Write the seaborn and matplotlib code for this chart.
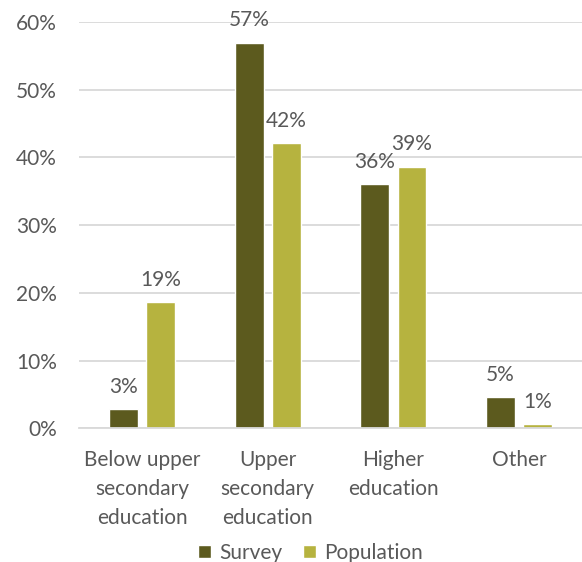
import pandas as pd
import matplotlib
matplotlib.use("Agg")
import matplotlib.pyplot as plt
import seaborn as sns

# data
categories = ["Below upper\nsecondary\neducation", "Upper\nsecondary\neducation",
              "Higher\neducation", "Other"]
survey = [0.028, 0.569, 0.360, 0.046]
population = [0.186, 0.421, 0.386, 0.006]
series_names = ["Survey", "Population"]
y_ticks = [0, 0.1, 0.2, 0.3, 0.4, 0.5, 0.6]

colors = ["#5C5A1E", "#B6B33F"]
text_color = "#595959"
fs = 15

df = pd.DataFrame({
    "category": categories * 2,
    "series": [series_names[0]] * 4 + [series_names[1]] * 4,
    "value": survey + population,
})

sns.set_theme(style="white")
plt.rcParams["font.family"] = ["Lato", "DejaVu Sans"]

fig = plt.figure(figsize=(5.82, 5.62), dpi=100)
ax = fig.add_axes([0.136, 0.238, 0.864, 0.723])

sns.barplot(data=df, x="category", y="value", hue="series", order=categories,
            hue_order=series_names, palette=colors, width=0.59, gap=0.22,
            saturation=1, ax=ax, legend=True)

# value labels
for container in ax.containers:
    labels = [f"{v * 100:.0f}%" for v in container.datavalues]
    ax.bar_label(container, labels=labels, padding=9, fontsize=fs,
                 color=text_color)

ax.set_ylim(0, 0.6)
ax.set_yticks(y_ticks)
ax.set_yticklabels([f"{int(t * 100)}%" for t in y_ticks])
ax.yaxis.grid(True, color="#D9D9D9", linewidth=1.3)
ax.set_axisbelow(True)
for side in ["top", "right", "left"]:
    ax.spines[side].set_visible(False)
ax.spines["bottom"].set_color("#D9D9D9")
ax.spines["bottom"].set_linewidth(1.3)

ax.tick_params(axis="y", length=0, pad=16, labelsize=fs, labelcolor=text_color)
ax.tick_params(axis="x", length=0, pad=16, labelsize=fs, labelcolor=text_color)
for lbl in ax.get_xticklabels():
    lbl.set_linespacing(1.55)
ax.set_xlabel("")
ax.set_ylabel("")

ax.legend(loc="lower center", bbox_to_anchor=(0.46, -0.378), ncol=2,
          frameon=False, fontsize=fs, labelcolor=text_color,
          handlelength=0.6, handleheight=0.6, handletextpad=0.4,
          columnspacing=1.0)

fig.savefig("out.png", dpi=100)
